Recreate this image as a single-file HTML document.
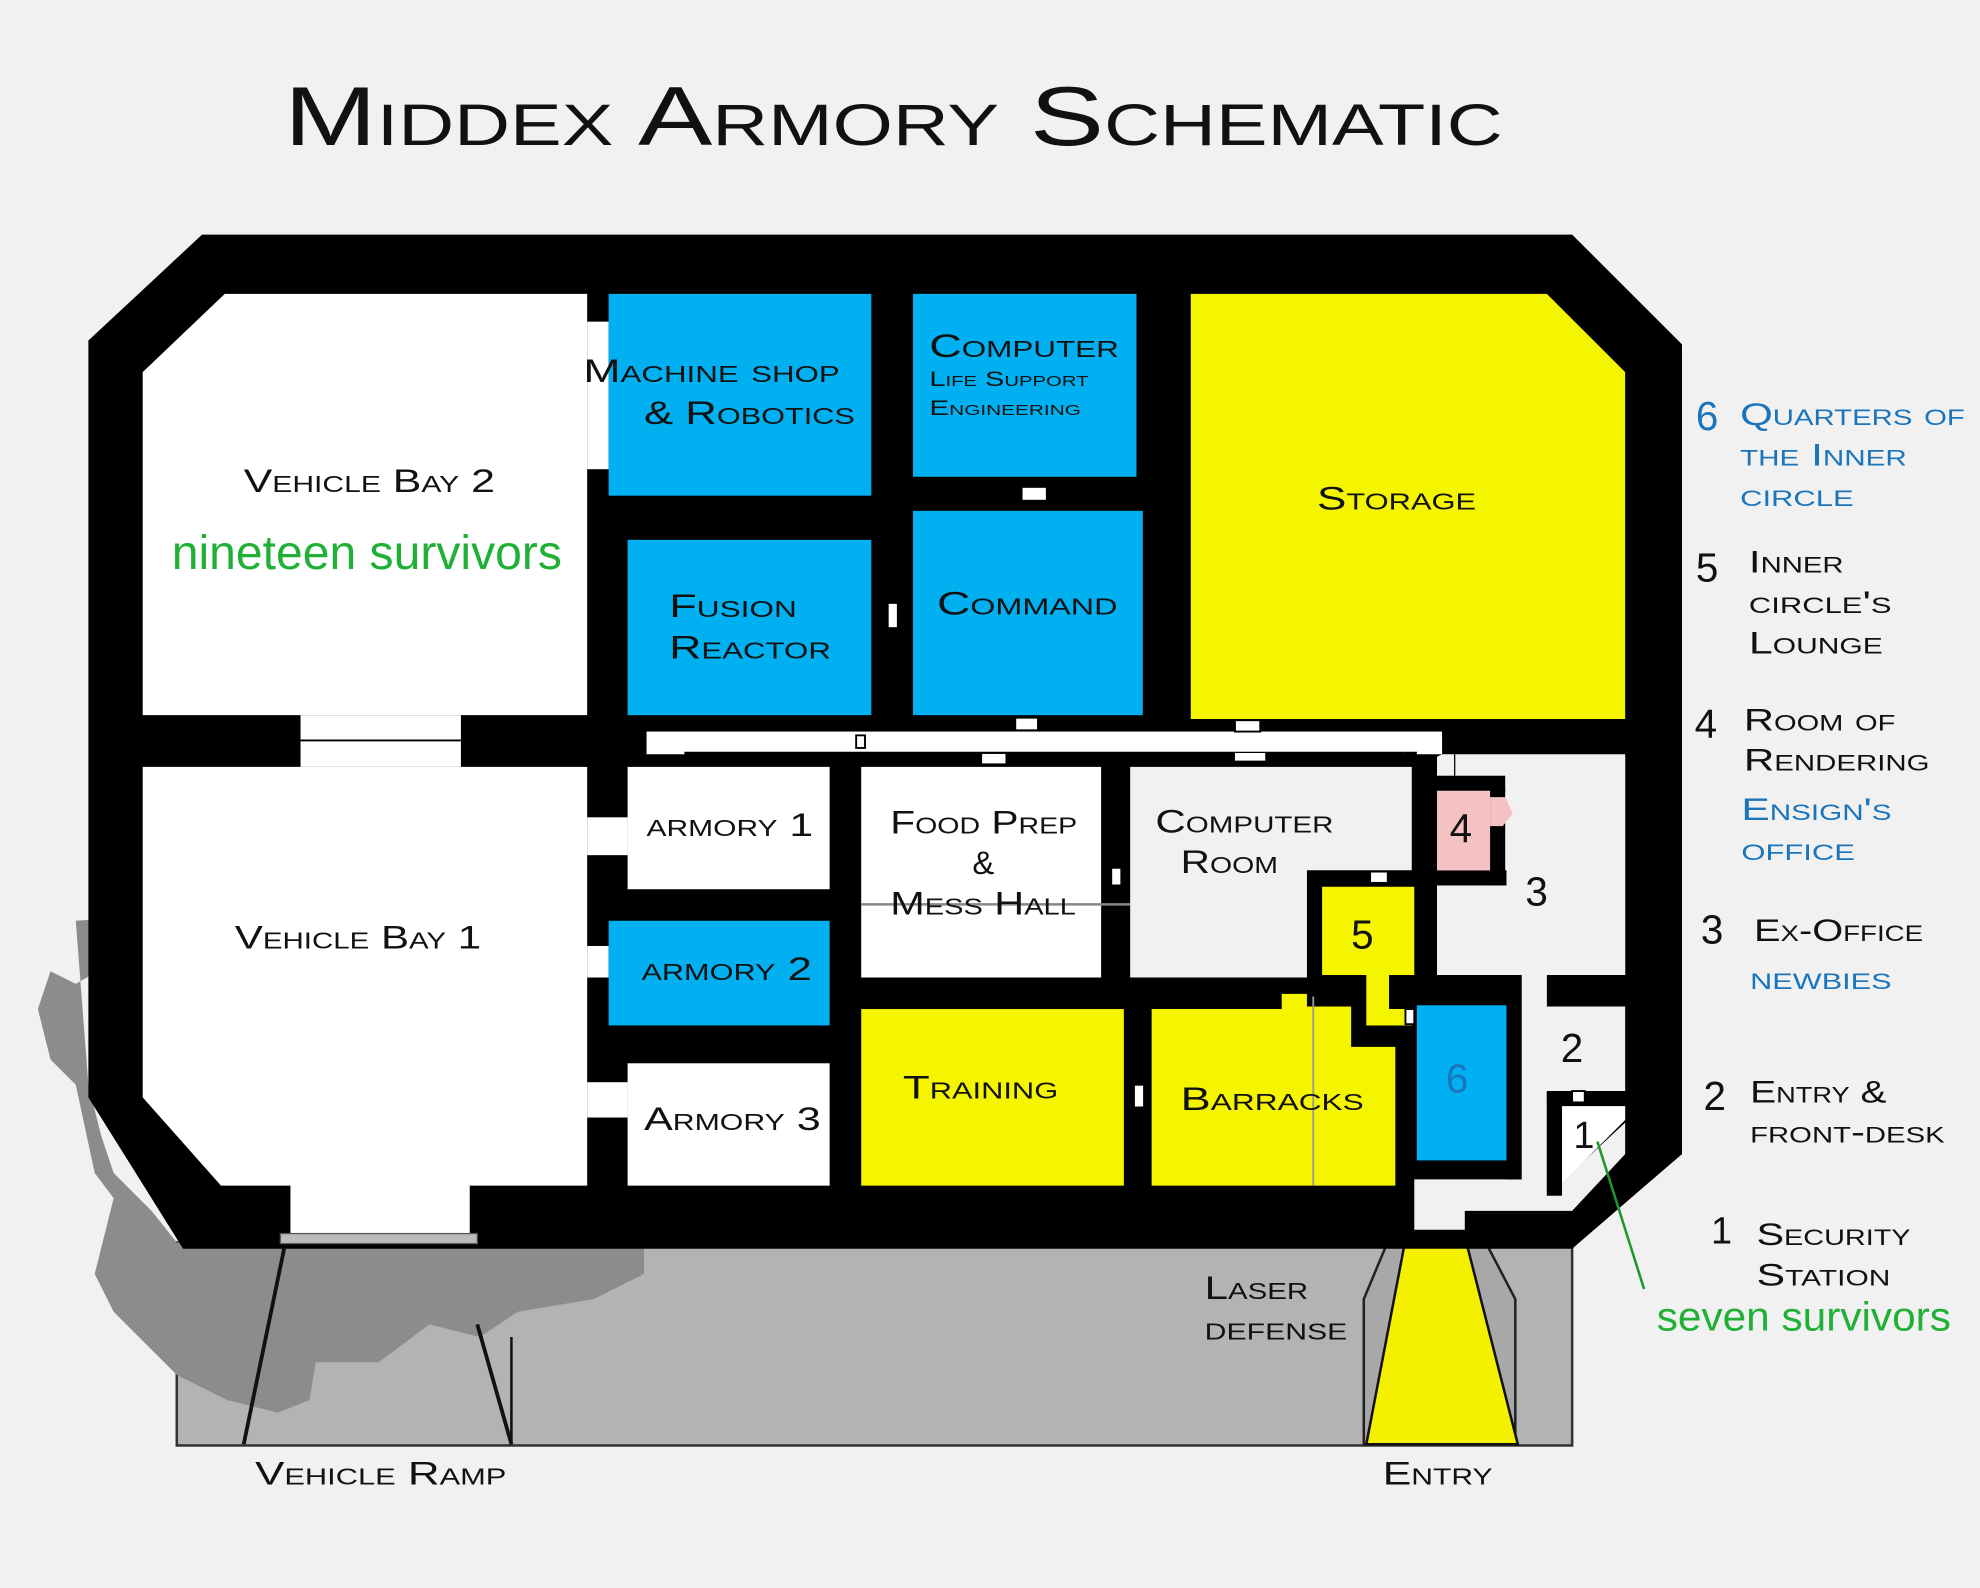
<!DOCTYPE html>
<html><head><meta charset="utf-8"><style>
html,body{margin:0;padding:0;background:#f1f1f1;}
svg{display:block}
text{font-family:"Liberation Sans",sans-serif;font-variant:small-caps;}
</style></head><body>
<svg width="1980" height="1588" viewBox="0 0 1568 1259" preserveAspectRatio="none" xmlns="http://www.w3.org/2000/svg">
<rect width="1568" height="1259" fill="#f1f1f1"/>
<text x="225" y="115" font-size="66" textLength="965" lengthAdjust="spacingAndGlyphs" fill="#111">Middex Armory Schematic</text>

<!-- gray ground -->
<rect x="140" y="985" width="1105" height="161" fill="#b3b3b3" stroke="#333" stroke-width="2"/>
<path d="M60,730 L90,728 L95,760 L60,780 L40,770 L30,800 L40,840 L60,860 L75,930 L90,950 L80,990 L75,1010 L90,1040 L110,1060 L140,1090 L180,1110 L220,1120 L245,1110 L250,1080 L300,1080 L340,1050 L380,1060 L410,1040 L470,1030 L510,1010 L510,985 L140,985 L120,960 L90,930 L80,900 L70,860 Z" fill="#8c8c8c"/>
<line x1="193" y1="1145" x2="225" y2="990" stroke="#111" stroke-width="3"/>
<line x1="405" y1="1145" x2="378" y2="1050" stroke="#111" stroke-width="3"/>
<line x1="405" y1="1060" x2="405" y2="1145" stroke="#111" stroke-width="2"/>
<!-- entry -->
<path d="M1100,982 L1175,982 L1200,1030 L1200,1145 L1080,1145 L1080,1030 Z" fill="#a8a8a8" stroke="#222" stroke-width="2"/>
<path d="M1112,988 L1162,988 L1202,1145 L1082,1145 Z" fill="#f5f000" stroke="#111" stroke-width="2"/>

<!-- building -->
<path d="M160,186 L1245,186 L1332,273 L1332,915 L1245,990 L145,990 L70,870 L70,270 Z" fill="#000"/>
<path d="M178,233 L465,233 L465,567 L113,567 L113,295 Z" fill="#fff"/>
<rect x="238" y="567" width="127" height="41" fill="#fff"/>
<line x1="238" y1="587" x2="365" y2="587" stroke="#000" stroke-width="1.5"/>
<path d="M113,608 L465,608 L465,940 L372,940 L372,980 L230,980 L230,940 L175,940 L113,870 Z" fill="#fff"/>
<rect x="222" y="978" width="156" height="8" fill="#bbb" stroke="#555"/>
<rect x="465" y="255" width="17" height="117" fill="#fff"/>
<rect x="465" y="648" width="32" height="30" fill="#fff"/>
<rect x="465" y="750" width="17" height="25" fill="#fff"/>
<rect x="465" y="858" width="32" height="28" fill="#fff"/>
<rect x="482" y="233" width="208" height="160" fill="#00b0f0"/>
<rect x="723" y="233" width="177" height="145" fill="#00b0f0"/>
<rect x="497" y="428" width="193" height="139" fill="#00b0f0"/>
<rect x="723" y="405" width="182" height="162" fill="#00b0f0"/>
<path d="M943,233 L1225,233 L1287,295 L1287,570 L943,570 Z" fill="#f5f500"/>
<rect x="512" y="580" width="630" height="18" fill="#fff"/>
<path d="M1142,598 L1287,598 L1287,773 L1225,773 L1225,798 L1287,798 L1287,865 L1225,865 L1225,948 L1287,890 L1287,915 L1245,960 L1160,960 L1160,975 L1120,975 L1120,935 L1205,935 L1205,773 L1138,773 L1138,600 Z" fill="#f1f1f1"/>
<rect x="1138" y="600" width="149" height="173" fill="#f1f1f1"/>
<rect x="542" y="596" width="570" height="10" fill="#000"/>
<rect x="1112" y="596" width="10" height="30" fill="#000"/>
<rect x="1193" y="773" width="12" height="162" fill="#000"/>
<rect x="1225" y="865" width="12" height="83" fill="#000"/>
<rect x="1138" y="690" width="55" height="12" fill="#000"/>
<rect x="1180" y="625" width="12" height="77" fill="#000"/>
<rect x="1120" y="615" width="72" height="12" fill="#000"/>
<rect x="1225" y="865" width="62" height="10" fill="#000"/>
<path d="M1237,877 L1287,877 L1287,888 L1237,938 Z" fill="#fff"/>
<rect x="497" y="608" width="160" height="97" fill="#fff"/>
<rect x="482" y="730" width="175" height="83" fill="#00b0f0"/>
<rect x="497" y="843" width="160" height="97" fill="#fff"/>
<rect x="682" y="608" width="190" height="167" fill="#fff"/>
<line x1="682" y1="717" x2="895" y2="717" stroke="#888" stroke-width="2"/>
<path d="M895,608 L1118,608 L1118,690 L1035,690 L1035,775 L895,775 Z" fill="#f1f1f1"/>
<rect x="682" y="800" width="208" height="140" fill="#f5f500"/>
<path d="M912,800 L1015,800 L1015,788 L1035,788 L1035,798 L1070,798 L1070,830 L1105,830 L1105,940 L912,940 Z" fill="#f5f500"/>
<line x1="1040" y1="790" x2="1040" y2="940" stroke="#999" stroke-width="1.5"/>
<path d="M1047,703 L1120,703 L1120,773 L1100,773 L1100,800 L1118,800 L1118,813 L1082,813 L1082,773 L1047,773 Z" fill="#f5f500"/>
<rect x="1138" y="627" width="42" height="63" fill="#f4c2c2"/>
<path d="M1180,632 L1192,632 L1198,645 L1190,655 L1180,655 Z" fill="#f4c2c2"/>
<rect x="1122" y="797" width="71" height="123" fill="#00b0f0"/>
<g fill="#fff" stroke="#000" stroke-width="1.5">
<rect x="809" y="386" width="20" height="11"/>
<rect x="703" y="478" width="8" height="20"/>
<rect x="804" y="569" width="18" height="10"/>
<rect x="978" y="571" width="20" height="9"/>
<rect x="777" y="597" width="20" height="9"/>
<rect x="678" y="583" width="7" height="10"/>
<rect x="880" y="688" width="8" height="14"/>
<rect x="1085" y="691" width="14" height="9"/>
<rect x="1113" y="800" width="7" height="12"/>
<rect x="898" y="860" width="8" height="18"/>
<rect x="1245" y="865" width="10" height="9"/>
</g>
<line x1="978" y1="600" x2="1002" y2="600" stroke="#fff" stroke-width="6"/>
<line x1="1152" y1="598" x2="1152" y2="615" stroke="#000" stroke-width="1"/>
<line x1="1265" y1="905" x2="1302" y2="1022" stroke="#1a9a2a" stroke-width="2"/>

<g fill="#111" font-size="26" lengthAdjust="spacingAndGlyphs">
<text x="193" y="390" textLength="199" lengthAdjust="spacingAndGlyphs">Vehicle Bay 2</text>
<text x="186" y="752" textLength="195" lengthAdjust="spacingAndGlyphs">Vehicle Bay 1</text>
<text x="462" y="303" textLength="203" lengthAdjust="spacingAndGlyphs">Machine shop</text>
<text x="510" y="336" textLength="167" lengthAdjust="spacingAndGlyphs">&amp; Robotics</text>
<text x="736" y="283" textLength="150" lengthAdjust="spacingAndGlyphs">Computer</text>
<text x="736" y="306" font-size="17" textLength="126" lengthAdjust="spacingAndGlyphs">Life Support</text>
<text x="736" y="329" font-size="17" textLength="120" lengthAdjust="spacingAndGlyphs">Engineering</text>
<text x="1043" y="404" textLength="126" lengthAdjust="spacingAndGlyphs">Storage</text>
<text x="530" y="489" textLength="101" lengthAdjust="spacingAndGlyphs">Fusion</text>
<text x="530" y="522" textLength="128" lengthAdjust="spacingAndGlyphs">Reactor</text>
<text x="742" y="487" textLength="143" lengthAdjust="spacingAndGlyphs">Command</text>
<text x="512" y="663" textLength="132" lengthAdjust="spacingAndGlyphs">armory 1</text>
<text x="508" y="777" textLength="135" lengthAdjust="spacingAndGlyphs">armory 2</text>
<text x="510" y="896" textLength="140" lengthAdjust="spacingAndGlyphs">Armory 3</text>
<text x="705" y="661" textLength="148" lengthAdjust="spacingAndGlyphs">Food Prep</text>
<text x="770" y="693">&amp;</text>
<text x="705" y="725" textLength="147" lengthAdjust="spacingAndGlyphs">Mess Hall</text>
<text x="915" y="660" textLength="141" lengthAdjust="spacingAndGlyphs">Computer</text>
<text x="935" y="692" textLength="77" lengthAdjust="spacingAndGlyphs">Room</text>
<text x="715" y="871" textLength="123" lengthAdjust="spacingAndGlyphs">Training</text>
<text x="935" y="880" textLength="145" lengthAdjust="spacingAndGlyphs">Barracks</text>
<text x="954" y="1030" textLength="82" lengthAdjust="spacingAndGlyphs">Laser</text>
<text x="954" y="1062" textLength="113" lengthAdjust="spacingAndGlyphs">defense</text>
<text x="202" y="1177" textLength="199" lengthAdjust="spacingAndGlyphs">Vehicle Ramp</text>
<text x="1095" y="1177" textLength="87" lengthAdjust="spacingAndGlyphs">Entry</text>
<text x="1070" y="752" font-size="32">5</text>
<text x="1148" y="668" font-size="32">4</text>
<text x="1208" y="718" font-size="32">3</text>
<text x="1236" y="842" font-size="32">2</text>
<text x="1246" y="910" font-size="30">1</text>
<text x="1145" y="866" font-size="32" fill="#1a75bc">6</text>
</g>
<text x="136" y="451" textLength="309" lengthAdjust="spacingAndGlyphs" font-size="38" fill="#1fb035" style="font-variant:normal">nineteen survivors</text>
<text x="1312" y="1055" textLength="233" lengthAdjust="spacingAndGlyphs" font-size="32" fill="#1fb035" style="font-variant:normal">seven survivors</text>

<g font-size="25">
<text x="1343" y="341" font-size="32" fill="#1a75bc">6</text>
<text x="1378" y="337" fill="#1a75bc" textLength="178" lengthAdjust="spacingAndGlyphs">Quarters of</text>
<text x="1378" y="369" fill="#1a75bc" textLength="132" lengthAdjust="spacingAndGlyphs">the Inner</text>
<text x="1378" y="401" fill="#1a75bc" textLength="90" lengthAdjust="spacingAndGlyphs">circle</text>
<text x="1343" y="461" font-size="32" fill="#111">5</text>
<text x="1385" y="454" fill="#111" textLength="75" lengthAdjust="spacingAndGlyphs">Inner</text>
<text x="1385" y="486" fill="#111" textLength="113" lengthAdjust="spacingAndGlyphs">circle's</text>
<text x="1385" y="518" fill="#111" textLength="106" lengthAdjust="spacingAndGlyphs">Lounge</text>
<text x="1342" y="585" font-size="32" fill="#111">4</text>
<text x="1381" y="579" fill="#111" textLength="120" lengthAdjust="spacingAndGlyphs">Room of</text>
<text x="1381" y="611" fill="#111" textLength="147" lengthAdjust="spacingAndGlyphs">Rendering</text>
<text x="1379" y="650" fill="#1a75bc" textLength="119" lengthAdjust="spacingAndGlyphs">Ensign's</text>
<text x="1379" y="682" fill="#1a75bc" textLength="90" lengthAdjust="spacingAndGlyphs">office</text>
<text x="1347" y="748" font-size="32" fill="#111">3</text>
<text x="1389" y="746" fill="#111" textLength="134" lengthAdjust="spacingAndGlyphs">Ex-Office</text>
<text x="1386" y="784" fill="#1a75bc" textLength="112" lengthAdjust="spacingAndGlyphs">newbies</text>
<text x="1349" y="880" font-size="32" fill="#111">2</text>
<text x="1386" y="874" fill="#111" textLength="108" lengthAdjust="spacingAndGlyphs">Entry &amp;</text>
<text x="1386" y="906" fill="#111" textLength="154" lengthAdjust="spacingAndGlyphs">front-desk</text>
<text x="1355" y="986" font-size="30" fill="#111">1</text>
<text x="1391" y="987" fill="#111" textLength="122" lengthAdjust="spacingAndGlyphs">Security</text>
<text x="1391" y="1019" fill="#111" textLength="106" lengthAdjust="spacingAndGlyphs">Station</text>
</g>
</svg>
</body></html>
